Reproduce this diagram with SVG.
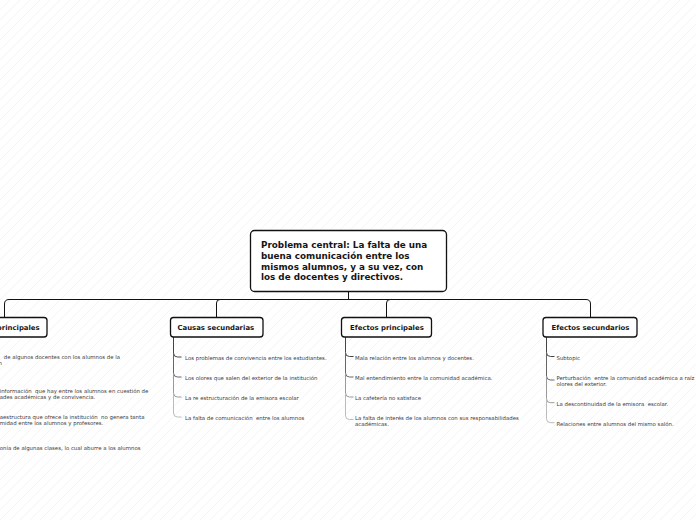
<svg xmlns="http://www.w3.org/2000/svg" width="696" height="520" viewBox="0 0 696 520" xml:space="preserve">
<style>
text { font-family: "DejaVu Sans", Verdana, sans-serif; white-space: pre; }
.tmain { font-size: 8.8px; font-weight: bold; fill: #161616; }
.tnode { font-size: 6.9px; font-weight: bold; fill: #161616; }
.tleaf { font-size: 5.4px; fill: #3a3a3a; }
.box { fill: #ffffff; stroke: #111111; stroke-width: 1.3; }
.conn { fill: none; stroke: #111111; stroke-width: 1; }
.br { fill: none; stroke-width: 1; }
</style>
<defs>
<pattern id="bg" width="10" height="10" patternUnits="userSpaceOnUse">
<path d="M-1,1 L1,-1 M0,10 L10,0 M9,11 L11,9" stroke="#efefef" stroke-width="0.7"/>
</pattern>
</defs>
<rect x="0" y="0" width="696" height="520" fill="#ffffff"/>
<rect x="0" y="0" width="696" height="520" fill="url(#bg)"/>

<g id="connectors">
<path class="conn" d="M348.5,291 V299.5"/>
<path class="conn" d="M4.5,317 V304 Q4.5,299.5 9,299.5 H586 Q590.5,299.5 590.5,304 V317"/>
<path class="conn" d="M220,299.5 Q216.5,299.5 216.5,303 V317"/>
<path class="conn" d="M390,299.5 Q386.5,299.5 386.5,303 V317"/>
<g id="branch-causas-secundarias">
<path class="br" stroke="#444" d="M173.5,337 V353 Q173.5,357 177.5,357 H181.5"/>
<path class="br" stroke="#666" d="M173.5,353 V373 Q173.5,377 177.5,377 H181.5"/>
<path class="br" stroke="#999" d="M173.5,373 V393 Q173.5,397 177.5,397 H181.5"/>
<path class="br" stroke="#bbb" d="M173.5,393 V413 Q173.5,417 177.5,417 H181.5"/>
</g>
<g id="branch-efectos-principales">
<path class="br" stroke="#444" d="M345.5,337 V352.5 Q345.5,356.5 349.5,356.5 H353.5"/>
<path class="br" stroke="#666" d="M345.5,352.5 V373 Q345.5,377 349.5,377 H353.5"/>
<path class="br" stroke="#999" d="M345.5,373 V393 Q345.5,397 349.5,397 H353.5"/>
<path class="br" stroke="#bbb" d="M345.5,393 V415.5 Q345.5,419.5 349.5,419.5 H353.5"/>
</g>
<g id="branch-efectos-secundarios">
<path class="br" stroke="#444" d="M546.5,337 V352.5 Q546.5,356.5 550.5,356.5 H554.5"/>
<path class="br" stroke="#666" d="M546.5,352.5 V376 Q546.5,380 550.5,380 H554.5"/>
<path class="br" stroke="#999" d="M546.5,376 V398.7 Q546.5,402.7 550.5,402.7 H554.5"/>
<path class="br" stroke="#bbb" d="M546.5,398.7 V418.7 Q546.5,422.7 550.5,422.7 H554.5"/>
</g>
</g>

<g id="central">
<rect class="box" x="250.5" y="230.5" width="196" height="61" rx="4" stroke-width="1.5"/>
<text class="tmain" x="261" y="247.7">Problema central: La falta de una</text>
<text class="tmain" x="261" y="258.6">buena comunicación entre los</text>
<text class="tmain" x="261" y="269.5">mismos alumnos, y a su vez, con</text>
<text class="tmain" x="261" y="280.4">los de docentes y directivos.</text>
</g>

<g id="causas-principales">
<rect class="box" x="-42" y="317.5" width="89" height="19.5" rx="3"/>
<text class="tnode" x="-33" y="329.8">Causas principales</text>
<g class="leaves">
<text class="tleaf" x="2" y="359.1"> de algunos docentes con los alumnos de la</text>
<text class="tleaf" x="-1.6" y="365.1">n</text>
<text class="tleaf" x="-0.3" y="392.5">información  que hay entre los alumnos en cuestión de</text>
<text class="tleaf" x="-0.3" y="398.8">ades académicas y de convivencia.</text>
<text class="tleaf" x="-0.3" y="419.3">aestructura que ofrece la institución  no genera tanta</text>
<text class="tleaf" x="-0.3" y="425.3">midad entre los alumnos y profesores.</text>
<text class="tleaf" x="-0.3" y="449.8">onía de algunas clases, lo cual aburre a los alumnos</text>
</g>
</g>

<g id="causas-secundarias">
<rect class="box" x="170.5" y="317.5" width="92.5" height="19.5" rx="3"/>
<text class="tnode" x="177.5" y="329.8">Causas secundarias</text>
<g class="leaves">
<text class="tleaf" x="185" y="360.1">Los problemas de convivencia entre los estudiantes.</text>
<text class="tleaf" x="185" y="380.1">Los olores que salen del exterior de la institución</text>
<text class="tleaf" x="185" y="400.1">La re estructuración de la emisora escolar</text>
<text class="tleaf" x="185" y="420.1">La falta de comunicación  entre los alumnos</text>
</g>
</g>

<g id="efectos-principales">
<rect class="box" x="341.5" y="317.5" width="90" height="19.5" rx="3"/>
<text class="tnode" x="350" y="329.8">Efectos principales</text>
<g class="leaves">
<text class="tleaf" x="355" y="359.5">Mala relación entre los alumnos y docentes.</text>
<text class="tleaf" x="355" y="380.1">Mal entendimiento entre la comunidad académica.</text>
<text class="tleaf" x="355" y="400.1">La cafetería no satisface</text>
<text class="tleaf" x="355" y="419.5">La falta de interés de los alumnos con sus responsabilidades</text>
<text class="tleaf" x="355" y="425.7">académicas.</text>
</g>
</g>

<g id="efectos-secundarios">
<rect class="box" x="543" y="317.5" width="94" height="19.5" rx="3"/>
<text class="tnode" x="551.5" y="329.8">Efectos secundarios</text>
<g class="leaves">
<text class="tleaf" x="556.5" y="359.5">Subtopic</text>
<text class="tleaf" x="556.5" y="379.5">Perturbación  entre la comunidad académica a raíz</text>
<text class="tleaf" x="556.5" y="385.8">olores del exterior.</text>
<text class="tleaf" x="556.5" y="405.8">La descontinuidad de la emisora  escolar.</text>
<text class="tleaf" x="556.5" y="425.8">Relaciones entre alumnos del mismo salón.</text>
</g>
</g>
</svg>
